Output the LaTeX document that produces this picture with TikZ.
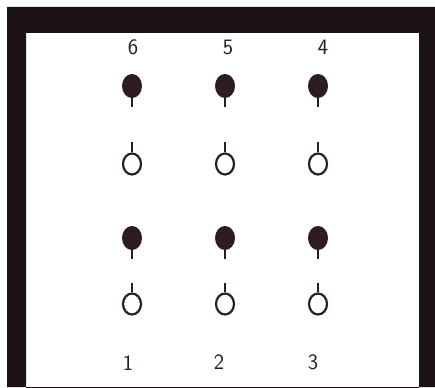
\documentclass[tikz,border=0pt]{standalone}
\usetikzlibrary{shapes.geometric}
\definecolor{frame}{RGB}{27,19,19}
\definecolor{ink}{RGB}{45,28,36}
\begin{document}
\begin{tikzpicture}[x=1pt, y=-1pt,
  bead/.style={ellipse, fill=ink, inner sep=0pt, minimum width=20pt, minimum height=24pt},
  ring/.style={ellipse, draw=ink, line width=2.2pt, inner sep=0pt, minimum width=18pt, minimum height=21pt},
  stem/.style={draw=ink, line width=2.2pt},
  digit/.style={text=ink, font=\sffamily\fontsize{22}{26}\selectfont}]
  \useasboundingbox (0,0) rectangle (435,387);
  % frame, open at the bottom
  \fill[frame, even odd rule] (7,7) rectangle (435,387) (26,33) rectangle (419,388);
  % upper labels
  \node[digit] (l6) at (133,47) {6};
  \node[digit] (l5) at (228,47) {5};
  \node[digit] (l4) at (323,47) {4};
  % two rows of pins
  \foreach \n/\x in {1/132, 2/225, 3/318} {
    \node[bead] (a\n) at (\x,86) {};
    \draw[stem] (a\n.south) -- ++(0,9);
    \node[ring] (b\n) at (\x,164) {};
    \draw[stem] (b\n.north) -- ++(0,-10);
    \node[bead] (c\n) at (\x,238) {};
    \draw[stem] (c\n.south) -- ++(0,9);
    \node[ring] (d\n) at (\x,304) {};
    \draw[stem] (d\n.north) -- ++(0,-9);
  }
  % lower labels
  \node[digit] (l1) at (128,363) {1};
  \node[digit] (l2) at (219,362) {2};
  \node[digit] (l3) at (313,362) {3};
\end{tikzpicture}
\end{document}
